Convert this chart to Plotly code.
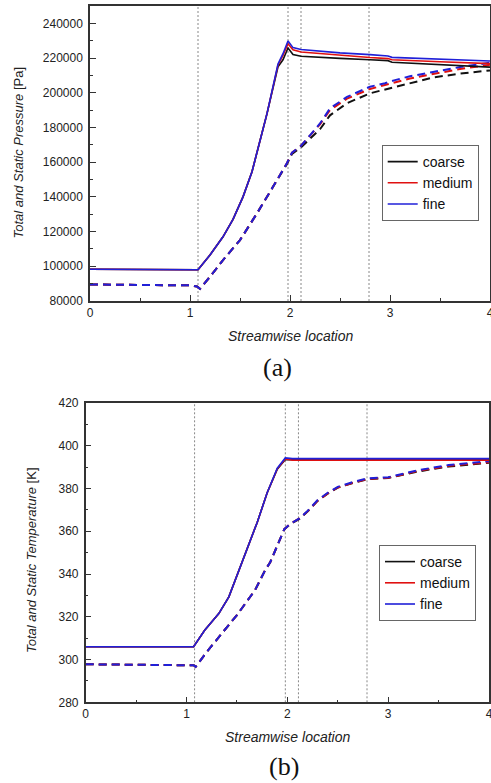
import plotly.graph_objects as go

# ---------------- data ----------------
GRIDS = ["coarse", "medium", "fine"]
COLORS = {"coarse": "#111111", "medium": "#e01010", "fine": "#2020d8"}
VLINES = [1.08, 1.98, 2.11, 2.79]

# (a) total pressure (solid)
PT_X = [0, 0.5, 1.0, 1.07, 1.08, 1.2, 1.33, 1.43, 1.53, 1.62, 1.77, 1.88, 1.93, 1.98,
        2.03, 2.11, 2.3, 2.5, 2.8, 2.98, 3.02, 3.5, 4.0]
PT_FINE = [98300, 98200, 98100, 97900, 98000, 106500, 117000, 127000, 140000, 154500,
           188000, 216500, 222500, 229800, 226000, 224900, 223800, 223000, 222000,
           221200, 220400, 219300, 218300]
PT_MEDIUM = [98300, 98200, 98100, 97900, 98000, 106500, 117000, 127000, 140000, 154500,
             188000, 216000, 221500, 228300, 224800, 223500, 222500, 221600, 220300,
             219700, 219000, 217900, 216800]
PT_COARSE = [98300, 98200, 98100, 97900, 98000, 106500, 117000, 127000, 140000, 154500,
             188000, 215000, 219000, 225800, 222000, 221000, 220300, 219800, 219000,
             218500, 217600, 216300, 214800]

# (a) static pressure (dashed)
PS_X = [0, 0.5, 1.0, 1.07, 1.1, 1.2, 1.33, 1.5, 1.67, 1.83, 1.97, 2.02, 2.11, 2.2,
        2.3, 2.4, 2.57, 2.8, 2.95, 3.05, 3.2, 3.43, 3.7, 4.0]
PS_FINE = [89500, 89300, 89000, 88400, 87000, 94000, 103600, 115100, 130500, 145800,
           159500, 165500, 169500, 175500, 182300, 191000, 197600, 203500, 205500,
           207300, 209500, 212000, 214800, 217300]
PS_MEDIUM = [89500, 89300, 89000, 88400, 87000, 94000, 103600, 115100, 130500, 145800,
             159500, 165500, 169500, 175300, 181800, 190000, 196600, 202200, 204300,
             206000, 208200, 210800, 213700, 216200]
PS_COARSE = [89500, 89300, 89000, 88400, 87000, 94000, 103600, 115100, 130500, 145800,
             159000, 164800, 168500, 173500, 179000, 187000, 194000, 199700, 201800,
             203500, 205700, 208800, 211000, 212900]

# (b) total temperature (solid)
TT_X = [0, 0.5, 1.0, 1.07, 1.18, 1.32, 1.42, 1.51, 1.6, 1.7, 1.8, 1.9, 1.98, 2.05,
        2.5, 3.0, 3.5, 4.0]
TT_FINE = [306, 306, 306, 306, 313.7, 321.5, 329.3, 340.5, 352.5, 364, 378, 389.5,
           394.3, 394, 394, 394, 394, 394]
TT_MEDIUM = [306, 306, 306, 306, 313.7, 321.5, 329.3, 340.5, 352.5, 364, 378, 389.2,
             393.8, 393.3, 393.3, 393.3, 393.3, 393.3]
TT_COARSE = [306, 306, 306, 306, 313.7, 321.5, 329.3, 340.5, 352.5, 364, 378, 389.0,
             393.6, 393.5, 393.5, 393.5, 393.5, 393.5]

# (b) static temperature (dashed)
TS_X = [0, 0.5, 1.0, 1.07, 1.09, 1.2, 1.35, 1.5, 1.68, 1.78, 1.83, 1.9, 1.97, 2.03,
        2.12, 2.2, 2.3, 2.4, 2.5, 2.65, 2.8, 3.0, 3.1, 3.3, 3.6, 4.0]
TS_FINE = [297.8, 297.7, 297.5, 297.3, 296.6, 303.5, 312.2, 320.8, 332.5, 341.8, 345.5,
           353, 361, 363.5, 366, 369.5, 374.6, 378, 380.8, 383, 384.8, 385.3, 386.5,
           388.6, 391, 392.8]
TS_MEDIUM = [297.8, 297.7, 297.5, 297.3, 296.6, 303.5, 312.2, 320.8, 332.5, 341.8, 345.5,
             353, 361, 363.5, 366, 369.3, 374.3, 377.7, 380.5, 382.7, 384.5, 385.0,
             386.2, 388.3, 390.6, 392.3]
TS_COARSE = [297.8, 297.7, 297.5, 297.3, 296.6, 303.5, 312.2, 320.8, 332.5, 341.8, 345.5,
             353, 361, 363.3, 365.8, 369.2, 374.2, 377.6, 380.4, 382.6, 384.4, 384.9,
             386.0, 388.0, 390.3, 392.0]

P_TICKS = [80000, 100000, 120000, 140000, 160000, 180000, 200000, 220000, 240000]
T_TICKS = [280, 300, 320, 340, 360, 380, 400, 420]
X_TICKS = [0, 1, 2, 3, 4]

# ---------------- figure ----------------
W, H = 491, 783
FONT = "Liberation Sans, Arial, sans-serif"

fig = go.Figure()

pt = {"coarse": PT_COARSE, "medium": PT_MEDIUM, "fine": PT_FINE}
ps = {"coarse": PS_COARSE, "medium": PS_MEDIUM, "fine": PS_FINE}
tt = {"coarse": TT_COARSE, "medium": TT_MEDIUM, "fine": TT_FINE}
ts = {"coarse": TS_COARSE, "medium": TS_MEDIUM, "fine": TS_FINE}

for g in GRIDS:
    fig.add_trace(go.Scatter(x=PS_X, y=ps[g], mode="lines", xaxis="x", yaxis="y",
                             line=dict(color=COLORS[g], width=2, dash="8px,5px"),
                             showlegend=False, hoverinfo="skip"))
for g in GRIDS:
    fig.add_trace(go.Scatter(x=PT_X, y=pt[g], mode="lines", xaxis="x", yaxis="y",
                             name=g, legend="legend",
                             line=dict(color=COLORS[g], width=1.6)))
for g in GRIDS:
    fig.add_trace(go.Scatter(x=TS_X, y=ts[g], mode="lines", xaxis="x2", yaxis="y2",
                             line=dict(color=COLORS[g], width=2, dash="8px,5px"),
                             showlegend=False, hoverinfo="skip"))
for g in GRIDS:
    fig.add_trace(go.Scatter(x=TT_X, y=tt[g], mode="lines", xaxis="x2", yaxis="y2",
                             name=g, legend="legend2",
                             line=dict(color=COLORS[g], width=1.6)))

axis_common = dict(showline=True, linecolor="#333", linewidth=1.5, mirror=True,
                   ticks="inside", ticklen=6, tickwidth=1.2, tickcolor="#333",
                   showgrid=False, zeroline=False, automargin=False,
                   ticklabeloverflow="allow",
                   tickfont=dict(family=FONT, size=12, color="#222"))

top = [1 - 6 / H, 1 - 301 / H]
bot = [1 - 403 / H, 1 - 702.3 / H]

legend_common = dict(xanchor="left", yanchor="middle", bordercolor="#666",
                     borderwidth=1, bgcolor="white",
                     font=dict(family=FONT, size=14, color="#111"),
                     tracegroupgap=0, itemwidth=30)

fig.update_layout(
    width=W, height=H, margin=dict(l=0, r=0, t=0, b=0),
    paper_bgcolor="white", plot_bgcolor="white",
    xaxis=dict(domain=[90 / W, 490 / W], anchor="y", range=[0, 4],
               tickvals=X_TICKS, minor=dict(dtick=0.5, ticks="inside", ticklen=3,
                                            tickcolor="#333"),
               **axis_common),
    yaxis=dict(domain=[top[1], top[0]], anchor="x", range=[80000, 250000],
               tickvals=P_TICKS, tickformat="d", ticklabelstandoff=3,
               minor=dict(dtick=10000, ticks="inside", ticklen=3, tickcolor="#333"),
               **axis_common),
    xaxis2=dict(domain=[85.7 / W, 489 / W], anchor="y2", range=[0, 4],
                tickvals=X_TICKS, minor=dict(dtick=0.5, ticks="inside", ticklen=3,
                                             tickcolor="#333"),
                **axis_common),
    yaxis2=dict(domain=[bot[1], bot[0]], anchor="x2", range=[280, 420],
                tickvals=T_TICKS, tickformat="d", ticklabelstandoff=3,
                minor=dict(dtick=10, ticks="inside", ticklen=3, tickcolor="#333"),
                **axis_common),
    legend=dict(x=381.7 / W, y=1 - 183 / H, **legend_common),
    legend2=dict(x=379 / W, y=1 - 583 / H, **legend_common),
    showlegend=True,
)

for xa, ya in (("x", "y"), ("x2", "y2")):
    for v in VLINES:
        fig.add_shape(type="line", xref=xa, yref=ya + " domain", x0=v, x1=v, y0=0, y1=1,
                      line=dict(color="#888", width=1, dash="2px,2px"), layer="below")

ann = [
    dict(text="<i>Streamwise location</i>", x=290 / W, y=1 - 336 / H),
    dict(text="<i>Streamwise location</i>", x=287 / W, y=1 - 737 / H),
    dict(text="<i>Total and Static Pressure</i> [Pa]", x=17.5 / W, y=1 - 153 / H,
         textangle=-90, font=dict(family=FONT, size=13, color="#222")),
    dict(text="<i>Total and Static Temperature</i> [K]", x=31 / W, y=1 - 560 / H,
         textangle=-90, font=dict(family=FONT, size=13, color="#222")),
]
for a in ann:
    a.setdefault("font", dict(family=FONT, size=14, color="#222"))
    fig.add_annotation(xref="paper", yref="paper", showarrow=False,
                       xanchor="center", yanchor="middle", **a)
SERIF = "Liberation Serif, Times New Roman, serif"
fig.add_annotation(text="(a)", x=277 / W, y=1 - 367 / H, xref="paper", yref="paper",
                   showarrow=False, font=dict(family=SERIF, size=26, color="#111"))
fig.add_annotation(text="(b)", x=284 / W, y=0, xref="paper", yref="paper",
                   yanchor="bottom", showarrow=False,
                   font=dict(family=SERIF, size=26, color="#111"))

fig.write_html("out.html", config={"displayModeBar": False},
               post_script="document.body.style.margin='0';"
                           "document.body.style.overflow='hidden';")
